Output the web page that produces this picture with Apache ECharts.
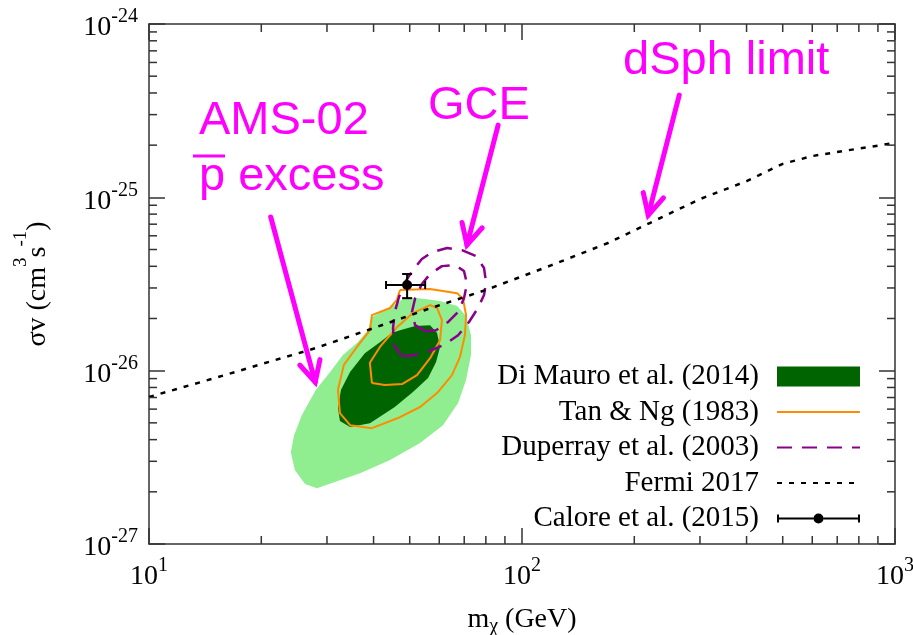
<!DOCTYPE html>
<html><head><meta charset="utf-8">
<script src="https://cdn.jsdelivr.net/npm/echarts@6/dist/echarts.min.js"></script>
<style>html,body{margin:0;padding:0;background:#fff}#c{width:913px;height:635px}</style>
</head><body><div id="c"></div>
<script>
// ---------------- data ----------------
const xTicks = [10, 100, 1000];
const yTicks = [1e-27, 1e-26, 1e-25, 1e-24];
const xMinorTicks = [20,30,40,50,60,70,80,90,200,300,400,500,600,700,800,900];
const yMinorTicks = [2e-27,3e-27,4e-27,5e-27,6e-27,7e-27,8e-27,9e-27,
                     2e-26,3e-26,4e-26,5e-26,6e-26,7e-26,8e-26,9e-26,
                     2e-25,3e-25,4e-25,5e-25,6e-25,7e-25,8e-25,9e-25];

// Di Mauro et al. (2014) - outer (light) and inner (dark) regions
const diMauroOuterMass  = [48.6,55.0,60.3,67.0,70.8,73.0,73.0,70.8,67.4,61.4,53.3,44.3,36.8,31.5,28.2,26.2,24.6,24.0,24.5,25.7,28.0,30.6,33.1,36.3,38.6,39.6,42.9,46.2];
const diMauroOuterSigma = [2.66e-26,2.59e-26,2.52e-26,2.36e-26,2.07e-26,1.60e-26,1.23e-26,8.83e-27,6.50e-27,4.85e-27,3.82e-27,3.05e-27,2.56e-27,2.28e-27,2.10e-27,2.22e-27,2.67e-27,3.39e-27,4.25e-27,5.54e-27,7.73e-27,9.81e-27,1.23e-26,1.46e-26,1.71e-26,2.04e-26,2.24e-26,2.45e-26];
const diMauroInnerMass  = [47.1,51.7,56.7,59.2,60.3,58.8,56.0,51.0,45.6,39.1,34.6,32.5,32.1,32.7,34.6,37.9,41.6,44.8];
const diMauroInnerSigma = [1.71e-26,1.81e-26,1.83e-26,1.65e-26,1.37e-26,1.12e-26,9.07e-27,7.52e-27,6.17e-27,4.98e-27,4.73e-27,5.12e-27,6.09e-27,7.73e-27,9.81e-27,1.26e-26,1.46e-26,1.65e-26];

// Tan & Ng (1983) contours
const tanOuterMass  = [47.1,56.7,67.0,69.5,70.8,70.3,68.2,64.9,59.2,53.3,46.5,39.6,34.6,32.5,32.1,33.3,36.1,39.1,39.6,44.3,46.2,46.8,47.1];
const tanOuterSigma = [2.92e-26,2.96e-26,2.80e-26,2.59e-26,2.09e-26,1.60e-26,1.20e-26,9.43e-27,7.43e-27,6.17e-27,5.33e-27,4.66e-27,4.85e-27,5.69e-27,7.73e-27,1.08e-26,1.37e-26,1.71e-26,2.09e-26,2.30e-26,2.56e-26,2.80e-26,2.92e-26];
const tanInnerMass  = [39.6,39.1,41.6,46.2,51.0,56.7,59.2,61.0,60.3,56.7,52.3,47.7,42.9,39.6];
const tanInnerSigma = [8.48e-27,1.11e-26,1.37e-26,1.78e-26,2.15e-26,2.39e-26,2.30e-26,1.96e-26,1.50e-26,1.18e-26,9.43e-27,8.37e-27,8.26e-27,8.48e-27];

// Duperray et al. (2003) contours
const dupOuterMass  = [47.7,45.4,45.1,45.6,46.8,48.6,51.0,53.9,57.4,63.0,69.0,75.3,79.1,80.1,79.1,76.2,72.1,67.4,62.2,56.7,51.7,47.7];
const dupOuterSigma = [1.21e-26,1.40e-26,1.76e-26,2.18e-26,2.66e-26,3.24e-26,3.81e-26,4.41e-26,4.83e-26,5.10e-26,4.96e-26,4.58e-26,3.91e-26,3.24e-26,2.73e-26,2.30e-26,1.91e-26,1.60e-26,1.42e-26,1.30e-26,1.23e-26,1.21e-26];
const dupInnerMass  = [55.0,51.7,50.7,51.7,53.9,56.7,61.0,66.1,69.9,71.2,69.9,67.4,63.4,58.8,55.0];
const dupInnerSigma = [1.69e-26,1.83e-26,2.18e-26,2.62e-26,3.16e-26,3.61e-26,4.01e-26,4.07e-26,3.76e-26,3.16e-26,2.62e-26,2.18e-26,1.91e-26,1.71e-26,1.69e-26];

// Fermi 2017 dSph limit
const fermiMass  = [10,15,20,28,40,55,80,120,170,220,300,400,500,600,750,1000];
const fermiSigma = [7.05e-27,9.06e-27,1.09e-26,1.35e-26,1.76e-26,2.24e-26,2.92e-26,4.06e-26,5.45e-26,7.11e-26,9.77e-26,1.24e-25,1.56e-25,1.73e-25,1.87e-25,2.06e-25];

// Calore et al. (2015) point with errors
const caloreMass = [49.2], caloreMassLow = [43.2], caloreMassHigh = [55.0];
const caloreSigma = [3.12e-26], caloreSigmaLow = [2.62e-26], caloreSigmaHigh = [3.61e-26];

// Annotation arrows (from -> to, in data units)
const arrowFromMass  = [21.2, 86.3, 264];
const arrowFromSigma = [7.70e-26, 2.61e-25, 3.89e-25];
const arrowToMass    = [27.9, 71.2, 218];
const arrowToSigma   = [8.59e-27, 5.31e-26, 7.90e-26];

// ---------------- chart ----------------
// ECharts rounds very small numbers, so the y axis works in units of 1e-27 cm^3 s^-1
const SIGMA_UNIT = 1e-27;
const sv = v => v / SIGMA_UNIT;
const SERIF = 'Liberation Serif';
const SANS = 'Liberation Sans';
const MAG = '#ff00ff';
const AX = '#333';
const chart = echarts.init(document.getElementById('c'), null, {renderer: 'canvas'});

function xLabel(v) {
  return '{b|10}{s|' + Math.round(Math.log10(v)) + '}';
}
function yLabel(v) {
  return '{b|10}{s|' + Math.round(Math.log10(v) + Math.log10(SIGMA_UNIT)) + '}';
}
const labelRich = {
  b: {fontSize: 28, lineHeight: 28, fontFamily: SERIF, color: '#000'},
  s: {fontSize: 20, lineHeight: 20, padding: [0, 0, 22, 0], fontFamily: SERIF, color: '#000'}
};
function polygonSeries(name, mass, sigma, color, z) {
  return {
    type: 'custom', name: name, coordinateSystem: 'cartesian2d', silent: true, z: z,
    itemStyle: {color: color},
    data: mass.map((m, i) => [m, sv(sigma[i])]),
    renderItem: function (params, api) {
      if (params.dataIndex !== 0) return null;
      const pts = mass.map((m, i) => api.coord([m, sv(sigma[i])]));
      return {type: 'polygon', shape: {points: pts}, style: {fill: color}};
    }
  };
}
function lineSeries(name, mass, sigma, color, width, type, z) {
  return {
    type: 'line', name: name, symbol: 'none', showSymbol: false, z: z, silent: true,
    lineStyle: {color: color, width: width, type: type},
    itemStyle: {color: color},
    data: mass.map((m, i) => [m, sv(sigma[i])])
  };
}
function makeAxis(extra) {
  return Object.assign({
    type: 'log', logBase: 10, nameMoveOverlap: false,
    axisLine: {show: true, onZero: false, lineStyle: {color: AX, width: 1.5}},
    axisTick: {show: true, inside: true, length: 16, lineStyle: {color: AX, width: 1.5}},
    splitLine: {show: false},
    minorTick: {show: false}
  }, extra);
}
const caloreIcon = 'path://M0,0h0.05v0.05h-0.05z M0,20h0.05v-0.05h-0.05z M83,0h-0.05v0.05h0.05z ' +
  'M0,6h2v8h-2z M81,6h2v8h-2z M0,9h36.5v2h-36.5z M46.5,9h36.5v2h-36.5z ' +
  'M46.5,10a5,5 0 1,1 -10,0a5,5 0 1,1 10,0z';
const hideSym = {opacity: 0};

const option = {
  animation: false,
  backgroundColor: '#fff',
  grid: {left: 149, right: 18, top: 24, bottom: 91, containLabel: false, outerBoundsMode: 'none'},
  xAxis: [
    makeAxis({
      position: 'bottom', min: xTicks[0], max: xTicks[xTicks.length - 1],
      axisLabel: {formatter: xLabel, rich: labelRich, margin: 19},
      name: '{a|m}{c|χ}{a| (GeV)}', nameLocation: 'middle', nameGap: 62,
      nameTextStyle: {fontFamily: SERIF, fontSize: 28, color: '#000',
        rich: {a: {fontSize: 28, lineHeight: 28, fontFamily: SERIF, color: '#000'},
               c: {fontSize: 20, lineHeight: 20, padding: [14, 0, 0, 0], fontFamily: SERIF, color: '#000'}}}
    }),
    makeAxis({
      position: 'top', min: xTicks[0], max: xTicks[xTicks.length - 1], axisLabel: {show: false}
    })
  ],
  yAxis: [
    makeAxis({
      position: 'left', min: sv(yTicks[0]), max: sv(yTicks[yTicks.length - 1]),
      axisLabel: {formatter: yLabel, rich: labelRich, margin: 11, padding: [8, 0, 0, 0]},
      name: '{a|σv (cm}{s|3}{a|s}{s|-1}{a|)}', nameLocation: 'middle', nameGap: 97,
      nameTextStyle: {fontFamily: SERIF, fontSize: 28, color: '#000',
        rich: {a: {fontSize: 28, lineHeight: 28, fontFamily: SERIF, color: '#000'},
               s: {fontSize: 19, lineHeight: 19, padding: [0, 0, 34, 0], fontFamily: SERIF, color: '#000'}}}
    }),
    makeAxis({
      position: 'right', min: sv(yTicks[0]), max: sv(yTicks[yTicks.length - 1]), axisLabel: {show: false}
    })
  ],
  legend: {
    orient: 'vertical', right: 52, top: 362, padding: 0,
    itemWidth: 83, itemHeight: 20, itemGap: 6.5, align: 'right',
    selectedMode: false,
    textStyle: {fontFamily: SERIF, fontSize: 29, color: '#000', lineHeight: 20, padding: [0, 13, 0, 0]},
    data: [
      {name: 'Di Mauro et al. (2014)', icon: 'rect'},
      {name: 'Tan & Ng (1983)', itemStyle: hideSym},
      {name: 'Duperray et al. (2003)', itemStyle: hideSym},
      {name: 'Fermi 2017', itemStyle: hideSym},
      {name: 'Calore et al. (2015)', icon: caloreIcon}
    ]
  },
  series: [
    polygonSeries('Di Mauro et al. (2014) outer', diMauroOuterMass, diMauroOuterSigma, '#90ee90', 1),
    polygonSeries('Di Mauro et al. (2014)', diMauroInnerMass, diMauroInnerSigma, '#006400', 2),
    lineSeries('Tan & Ng (1983)', tanOuterMass, tanOuterSigma, '#ff8c00', 2, 'solid', 3),
    lineSeries('Tan & Ng (1983)', tanInnerMass, tanInnerSigma, '#ff8c00', 2, 'solid', 3),
    lineSeries('Duperray et al. (2003)', dupOuterMass, dupOuterSigma, '#8b008b', 2.5, [15, 10], 4),
    lineSeries('Duperray et al. (2003)', dupInnerMass, dupInnerSigma, '#8b008b', 2.5, [15, 10], 4),
    lineSeries('Fermi 2017', fermiMass, fermiSigma, '#000', 2.5, [5, 7], 5),
    {
      type: 'custom', name: 'Calore et al. (2015)', coordinateSystem: 'cartesian2d', z: 6, silent: true,
      itemStyle: {color: '#000'},
      data: caloreMass.map((m, i) => [m, sv(caloreSigma[i])]),
      renderItem: function (params, api) {
        const i = params.dataIndex;
        const c = api.coord([caloreMass[i], sv(caloreSigma[i])]);
        const xl = api.coord([caloreMassLow[i], sv(caloreSigma[i])])[0];
        const xh = api.coord([caloreMassHigh[i], sv(caloreSigma[i])])[0];
        const yl = api.coord([caloreMass[i], sv(caloreSigmaLow[i])])[1];
        const yh = api.coord([caloreMass[i], sv(caloreSigmaHigh[i])])[1];
        const st = {stroke: '#000', lineWidth: 2};
        const L = (x1, y1, x2, y2) => ({type: 'line', shape: {x1, y1, x2, y2}, style: st});
        return {type: 'group', children: [
          L(xl, c[1], xh, c[1]), L(xl, c[1] - 4, xl, c[1] + 4), L(xh, c[1] - 4, xh, c[1] + 4),
          L(c[0], yl, c[0], yh), L(c[0] - 5, yl, c[0] + 5, yl), L(c[0] - 5, yh, c[0] + 5, yh),
          {type: 'circle', shape: {cx: c[0], cy: c[1], r: 5}, style: {fill: '#000'}}
        ]};
      }
    }
  ]
};
chart.setOption(option);

// ---- minor ticks, annotations ----
const X = v => chart.convertToPixel({xAxisIndex: 0}, v);
const Y = v => chart.convertToPixel({yAxisIndex: 0}, sv(v));
const gx0 = X(xTicks[0]), gx1 = X(xTicks[xTicks.length - 1]);
const gy0 = Y(yTicks[0]), gy1 = Y(yTicks[yTicks.length - 1]);
const g = [];
const tickStyle = {stroke: AX, lineWidth: 1.5};
const minorLen = 8;
xMinorTicks.forEach(v => {
  const px = X(v);
  g.push({type: 'line', silent: true, z: 50, shape: {x1: px, y1: gy0, x2: px, y2: gy0 - minorLen}, style: tickStyle});
  g.push({type: 'line', silent: true, z: 50, shape: {x1: px, y1: gy1, x2: px, y2: gy1 + minorLen}, style: tickStyle});
});
yMinorTicks.forEach(v => {
  const py = Y(v);
  g.push({type: 'line', silent: true, z: 50, shape: {x1: gx0, y1: py, x2: gx0 + minorLen, y2: py}, style: tickStyle});
  g.push({type: 'line', silent: true, z: 50, shape: {x1: gx1, y1: py, x2: gx1 - minorLen, y2: py}, style: tickStyle});
});
// arrows
arrowFromMass.forEach((m, i) => {
  const a = [X(m), Y(arrowFromSigma[i])];
  const b = [X(arrowToMass[i]), Y(arrowToSigma[i])];
  const dx = a[0] - b[0], dy = a[1] - b[1], len = Math.hypot(dx, dy);
  const ux = dx / len, uy = dy / len;
  const ang = 27 * Math.PI / 180, hl = 23;
  const rot = t => [b[0] + hl * (ux * Math.cos(t) - uy * Math.sin(t)), b[1] + hl * (ux * Math.sin(t) + uy * Math.cos(t))];
  g.push({type: 'line', silent: true, z: 100, shape: {x1: a[0], y1: a[1], x2: b[0], y2: b[1]},
          style: {stroke: MAG, lineWidth: 5, lineCap: 'round'}});
  g.push({type: 'polyline', silent: true, z: 100, shape: {points: [rot(ang), b, rot(-ang)]},
          style: {stroke: MAG, lineWidth: 5, lineJoin: 'miter', lineCap: 'round', fill: null}});
});
// annotation texts
const notes = [
  {text: 'AMS-02', x: 199, y: 121},
  {text: 'p excess', x: 199, y: 177},
  {text: 'GCE', x: 428, y: 106},
  {text: 'dSph limit', x: 623, y: 61}
];
notes.forEach(n => {
  g.push({type: 'text', silent: true, z: 100, x: n.x, y: n.y,
          style: {text: n.text, fill: MAG, fontSize: 47, fontFamily: SANS, verticalAlign: 'middle', align: 'left'}});
});
g.push({type: 'line', silent: true, z: 100, shape: {x1: 193, y1: 156, x2: 225, y2: 156}, style: {stroke: MAG, lineWidth: 3}});
chart.setOption({graphic: g});
</script>
</body></html>
